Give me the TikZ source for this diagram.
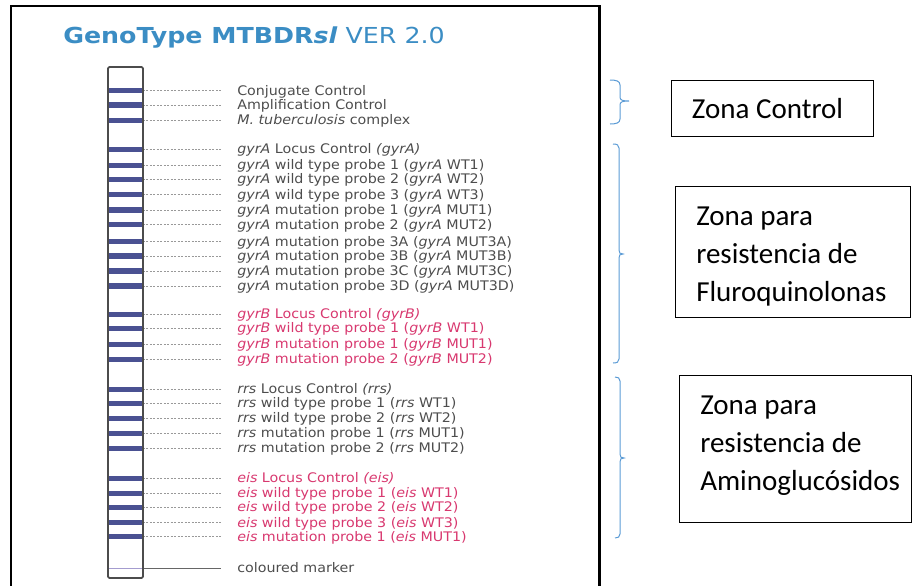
\documentclass[tikz,border=0pt]{standalone}
\usepackage{fontspec}
\setmainfont[FakeStretch=1.08]{DejaVu Sans}
\newfontfamily\ttlfont[FakeStretch=1.15]{DejaVu Sans}
\newfontfamily\calib{Carlito}
\definecolor{ttl}{HTML}{3B8DC4}
\definecolor{labgray}{HTML}{4D4D4D}
\definecolor{labpink}{HTML}{D8386F}
\definecolor{bandc}{HTML}{4A5192}
\definecolor{bracec}{HTML}{5B9BD5}
\definecolor{markc}{HTML}{A49CCF}
\newcommand\probe[4]{%
  \fill[band] (108,#2-2.7) rectangle (143,#2+2.7);
  \coordinate (s#1) at (143,#2);
  \coordinate (e#1) at (221,#2);
  \node[lab,#3] (l#1) at (237,#2+4.5) {#4};
  \draw[leader] (s#1) -- (e#1);
}
\begin{document}
\begin{tikzpicture}[x=0.75pt,y=-0.75pt,
  band/.style={fill=bandc},
  lab/.style={anchor=base west, inner sep=0pt, font=\fontsize{9.9}{11}\selectfont, text=labgray},
  pinklab/.style={text=labpink},
  leader/.style={draw=black!40, line width=0.45pt, dash pattern=on 1.5pt off 1.1pt},
  strip/.style={draw=black!70, line width=1.3pt, rounded corners=1pt},
  zbox/.style={draw=black, line width=1pt, inner sep=0pt},
  ztext/.style={anchor=north west, inner sep=0pt, align=left, font=\calib\fontsize{21.75}{28.5}\selectfont},
  bracket/.style={draw=bracec, line width=0.75pt},
  frame/.style={draw=black, line width=1.6pt}]
\useasboundingbox (0,0) rectangle (912,585);
% outer frame
\draw[frame] (11,600) -- (11,6) -- (599.5,6) -- (599.5,600);
% title
\node[anchor=base west, inner sep=0pt, text=ttl, font=\ttlfont\fontsize{16.5}{20}\selectfont] (title) at (63,43.3)
  {\textbf{GenoType MTBDR\textit{sl}} VER 2.0};
% probes
\probe{c1}{90.7}{}{Conjugate Control}
\probe{c2}{105}{}{Amplification Control}
\probe{c3}{120.3}{}{\textit{M. tuberculosis} complex}
\probe{g1}{149.3}{}{\textit{gyrA} Locus Control \textit{(gyrA)}}
\probe{g2}{165.3}{}{\textit{gyrA} wild type probe 1 (\textit{gyrA} WT1)}
\probe{g3}{179.3}{}{\textit{gyrA} wild type probe 2 (\textit{gyrA} WT2)}
\probe{g4}{194.7}{}{\textit{gyrA} wild type probe 3 (\textit{gyrA} WT3)}
\probe{g5}{210}{}{\textit{gyrA} mutation probe 1 (\textit{gyrA} MUT1)}
\probe{g6}{224.7}{}{\textit{gyrA} mutation probe 2 (\textit{gyrA} MUT2)}
\probe{g7}{241.7}{}{\textit{gyrA} mutation probe 3A (\textit{gyrA} MUT3A)}
\probe{g8}{256}{}{\textit{gyrA} mutation probe 3B (\textit{gyrA} MUT3B)}
\probe{g9}{271}{}{\textit{gyrA} mutation probe 3C (\textit{gyrA} MUT3C)}
\probe{g10}{286}{}{\textit{gyrA} mutation probe 3D (\textit{gyrA} MUT3D)}
\probe{b1}{314.3}{pinklab}{\textit{gyrB} Locus Control \textit{(gyrB)}}
\probe{b2}{328.3}{pinklab}{\textit{gyrB} wild type probe 1 (\textit{gyrB} WT1)}
\probe{b3}{344.3}{pinklab}{\textit{gyrB} mutation probe 1 (\textit{gyrB} MUT1)}
\probe{b4}{359.3}{pinklab}{\textit{gyrB} mutation probe 2 (\textit{gyrB} MUT2)}
\probe{r1}{389.3}{}{\textit{rrs} Locus Control \textit{(rrs)}}
\probe{r2}{403.3}{}{\textit{rrs} wild type probe 1 (\textit{rrs} WT1)}
\probe{r3}{418.3}{}{\textit{rrs} wild type probe 2 (\textit{rrs} WT2)}
\probe{r4}{433.3}{}{\textit{rrs} mutation probe 1 (\textit{rrs} MUT1)}
\probe{r5}{448.3}{}{\textit{rrs} mutation probe 2 (\textit{rrs} MUT2)}
\probe{e1}{478.3}{pinklab}{\textit{eis} Locus Control \textit{(eis)}}
\probe{e2}{493.3}{pinklab}{\textit{eis} wild type probe 1 (\textit{eis} WT1)}
\probe{e3}{507.3}{pinklab}{\textit{eis} wild type probe 2 (\textit{eis} WT2)}
\probe{e4}{522.7}{pinklab}{\textit{eis} wild type probe 3 (\textit{eis} WT3)}
\probe{e5}{536.7}{pinklab}{\textit{eis} mutation probe 1 (\textit{eis} MUT1)}
% coloured marker
\draw[markc, line width=1.2pt] (108,568.3) -- (143,568.3);
\coordinate (sm) at (143,568.3);
\coordinate (em) at (221,568.3);
\draw[black!60, line width=0.6pt] (sm) -- (em);
\node[lab] (lm) at (237,572.8) {coloured marker};
% strip outline
\draw[strip] (108,67) rectangle (143,578);
% braces
\draw[bracket] (610,80) .. controls (616,80) and (620,81) .. (620,85) -- (620,97)
  .. controls (620,100) and (622,101) .. (629,101)
  .. controls (622,101) and (620,102) .. (620,105) -- (620,119)
  .. controls (620,123) and (616,124) .. (610,124);
\draw[bracket] (613,144) .. controls (617,144) and (619,145) .. (619,148) -- (619,250)
  .. controls (619,253) and (620,254) .. (623,254)
  .. controls (620,254) and (619,255) .. (619,258) -- (619,359)
  .. controls (619,362) and (617,363) .. (613,363);
\draw[bracket] (615,377) .. controls (618,377) and (620,378) .. (620,381) -- (620,454)
  .. controls (620,457) and (621,458) .. (624,458)
  .. controls (621,458) and (620,459) .. (620,462) -- (620,534)
  .. controls (620,537) and (618,538) .. (615,538);
% boxes
\node[zbox, anchor=north west, minimum width=202*0.75pt, minimum height=56*0.75pt] (box1) at (670.7,80) {};
\node[anchor=base west, inner sep=0pt, font=\calib\fontsize{21.75}{28.5}\selectfont] (txt1) at (691.7,118.3) {Zona Control};
\node[zbox, anchor=north west, minimum width=235*0.75pt, minimum height=131*0.75pt] (box2) at (675,186) {};
\node[ztext] (txt2) at (696,206.3) {Zona para\\resistencia de\\Fluroquinolonas};
\node[zbox, anchor=north west, minimum width=232*0.75pt, minimum height=146.7*0.75pt] (box3) at (678.7,375) {};
\node[ztext] (txt3) at (700,395.3) {Zona para\\resistencia de\\Aminoglucósidos};
\end{tikzpicture}
\end{document}
